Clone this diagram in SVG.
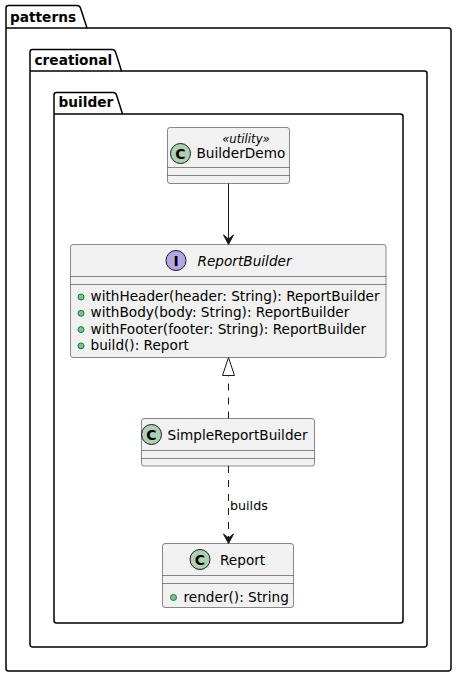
<svg xmlns="http://www.w3.org/2000/svg" width="456" height="677" viewBox="0 0 456 677">
<style>
.pkg{fill:none;stroke:#000000;stroke-width:1.5}
.pkgt{font-family:"DejaVu Sans",sans-serif;font-size:13.7px;font-weight:bold;fill:#000000}
.box{fill:#F1F1F1;stroke:#181818;stroke-width:0.5}
.sep{stroke:#181818;stroke-width:0.5}
.t{font-family:"DejaVu Sans",sans-serif;font-size:13.65px;fill:#000000}
.it{font-style:italic}
.st{font-family:"DejaVu Sans",sans-serif;font-size:11.7px;font-style:italic;fill:#000000}
.lbl{font-family:"DejaVu Sans",sans-serif;font-size:12.7px;fill:#000000}
.cc{fill:#ADD1B2;stroke:#181818;stroke-width:1}
.ci{fill:#B4A7E5;stroke:#181818;stroke-width:1}
.cl{font-family:"DejaVu Sans",sans-serif;font-size:14px;font-weight:bold;fill:#000000;text-anchor:middle}
.dot{fill:#84BE84;stroke:#038048;stroke-width:1}
.ln{stroke:#181818;stroke-width:1;fill:none}
.dash{stroke-dasharray:7,7}
</style>
<g id="pkg-patterns">
<path class="pkg" d="M8.5,5.5 L77,5.5 A3.75,3.75 0 0 1 80.5,8 L87,28 L448.5,28 A2.5,2.5 0 0 1 451,30.5 L451,668.5 A2.5,2.5 0 0 1 448.5,671 L8.5,671 A2.5,2.5 0 0 1 6,668.5 L6,8 A2.5,2.5 0 0 1 8.5,5.5 Z"/>
<path class="pkg" d="M6,28 L87,28"/>
<text class="pkgt" x="10" y="22">patterns</text>
</g>
<g id="pkg-creational">
<path class="pkg" d="M32.5,49.5 L112,49.5 A3.75,3.75 0 0 1 115.5,52 L121.5,71 L424.5,71 A2.5,2.5 0 0 1 427,73.5 L427,644.5 A2.5,2.5 0 0 1 424.5,647 L32.5,647 A2.5,2.5 0 0 1 30,644.5 L30,52 A2.5,2.5 0 0 1 32.5,49.5 Z"/>
<path class="pkg" d="M30,71 L121.5,71"/>
<text class="pkgt" x="34.5" y="64.5">creational</text>
</g>
<g id="pkg-builder">
<path class="pkg" d="M56.5,92.5 L113,92.5 A3.75,3.75 0 0 1 116.5,95 L122.5,114 L400.5,114 A2.5,2.5 0 0 1 403,116.5 L403,620.5 A2.5,2.5 0 0 1 400.5,623 L56.5,623 A2.5,2.5 0 0 1 54,620.5 L54,95 A2.5,2.5 0 0 1 56.5,92.5 Z"/>
<path class="pkg" d="M54,114 L122.5,114"/>
<text class="pkgt" x="58.5" y="107">builder</text>
</g>
<g id="BuilderDemo">
<rect class="box" x="167.5" y="127.5" width="122" height="56" rx="2.5"/>
<circle class="cc" cx="180.5" cy="153.5" r="10"/>
<text class="cl" x="180.5" y="158.5">C</text>
<text class="st" x="246" y="143" text-anchor="middle">«utility»</text>
<text class="t" x="196.5" y="158">BuilderDemo</text>
<line class="sep" x1="167.5" y1="167.5" x2="289.5" y2="167.5"/>
<line class="sep" x1="167.5" y1="175.5" x2="289.5" y2="175.5"/>
</g>
<g id="ReportBuilder">
<rect class="box" x="70.5" y="244.5" width="315.5" height="113" rx="2.5"/>
<circle class="ci" cx="176" cy="260.5" r="10"/>
<text class="cl" x="176" y="265.5">I</text>
<text class="t it" x="197.5" y="266">ReportBuilder</text>
<line class="sep" x1="70.5" y1="276.5" x2="386" y2="276.5"/>
<line class="sep" x1="70.5" y1="284.5" x2="386" y2="284.5"/>
<circle class="dot" cx="81" cy="297" r="3"/>
<text class="t" x="90.5" y="301">withHeader(header: String): ReportBuilder</text>
<circle class="dot" cx="81" cy="313.3" r="3"/>
<text class="t" x="90.5" y="317.3">withBody(body: String): ReportBuilder</text>
<circle class="dot" cx="81" cy="329.6" r="3"/>
<text class="t" x="90.5" y="333.6">withFooter(footer: String): ReportBuilder</text>
<circle class="dot" cx="81" cy="345.9" r="3"/>
<text class="t" x="90.5" y="349.9">build(): Report</text>
</g>
<g id="SimpleReportBuilder">
<rect class="box" x="141.5" y="418.5" width="173" height="47.5" rx="2.5"/>
<circle class="cc" cx="151.5" cy="434.5" r="10"/>
<text class="cl" x="151.5" y="439.5">C</text>
<text class="t" x="167.5" y="439.5">SimpleReportBuilder</text>
<line class="sep" x1="141.5" y1="450.5" x2="314.5" y2="450.5"/>
<line class="sep" x1="141.5" y1="458.5" x2="314.5" y2="458.5"/>
</g>
<g id="Report">
<rect class="box" x="162.5" y="543.5" width="131" height="64" rx="2.5"/>
<circle class="cc" cx="200" cy="559.5" r="10"/>
<text class="cl" x="200" y="564.5">C</text>
<text class="t" x="220" y="564.5">Report</text>
<line class="sep" x1="162.5" y1="575.5" x2="293.5" y2="575.5"/>
<line class="sep" x1="162.5" y1="583.5" x2="293.5" y2="583.5"/>
<circle class="dot" cx="173.5" cy="597.5" r="3"/>
<text class="t" x="183.5" y="601.5">render(): String</text>
</g>
<g id="connectors">
<line class="ln" x1="228.5" y1="183.5" x2="228.5" y2="240"/>
<polygon fill="#181818" stroke="#181818" stroke-width="1" points="228.5,244.5,233.5,235,228.5,239,223.5,235"/>
<line class="ln dash" x1="228.5" y1="418.5" x2="228.5" y2="375.5"/>
<polygon fill="none" stroke="#181818" stroke-width="1" points="228.5,357.5,222.5,375.5,234.5,375.5"/>
<line class="ln dash" x1="228.5" y1="466" x2="228.5" y2="539"/>
<polygon fill="#181818" stroke="#181818" stroke-width="1" points="228.5,543.5,233.5,534,228.5,538,223.5,534"/>
<text class="lbl" x="230" y="510">builds</text>
</g>
</svg>
